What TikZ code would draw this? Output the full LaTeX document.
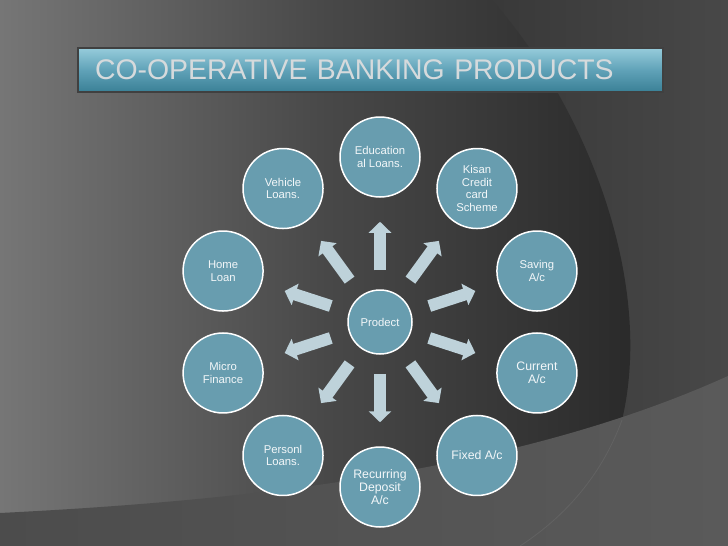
\documentclass[tikz,border=0pt]{standalone}
\usepackage{fontspec}
\setmainfont{Liberation Sans}
\usepackage{tikz}
\usetikzlibrary{trees, arrows.meta}
\usepackage{xcolor}
\definecolor{bubble}{RGB}{104,157,175}
\definecolor{pointer}{RGB}{190,210,218}
\definecolor{bgleft}{RGB}{118,118,118}
\definecolor{bgmid}{RGB}{72,72,72}
\definecolor{bgright}{RGB}{40,40,40}
\definecolor{bgout}{RGB}{56,56,56}
\definecolor{bgfar}{RGB}{72,72,72}
\definecolor{bandleft}{RGB}{76,76,76}
\definecolor{bandright}{RGB}{90,90,90}
\definecolor{arcline}{RGB}{98,98,98}
\definecolor{bartop}{RGB}{150,204,219}
\definecolor{barmid}{RGB}{96,162,184}
\definecolor{barbot}{RGB}{58,128,150}
\definecolor{titletext}{RGB}{214,218,220}

\tikzset{
  product/.style={circle, draw=white, line width=1.5pt, fill=bubble, minimum size=80pt,
    inner sep=0pt, align=center, text=white!92!bubble, font=\fontsize{11.3}{12.5}\selectfont},
  bigtext/.style={font=\fontsize{12.3}{13}\selectfont},
  titlebar/.style={draw=black!75, line width=1.2pt, top color=bartop, bottom color=barbot,
    middle color=barmid, minimum height=44pt, text width=551pt, inner xsep=17pt,
    align=left, text=titletext, font=\fontsize{28.4}{30}\selectfont}
}

\begin{document}
\begin{tikzpicture}[x=1pt, y=1pt,
    grow cyclic, level distance=165pt, sibling angle=36,
    edge from parent/.style={draw=pointer, line width=12pt,
      -{Triangle[width=22pt,length=11pt]}, shorten <=19pt, shorten >=24pt}]
    \useasboundingbox (0,0) rectangle (728,-546);
    \fill[bgout] (0,0) rectangle (728,-546);
    \shade[left color=bgout, right color=bgfar] (480,0) rectangle (728,-546);
    \shade[left color=bgleft, right color=bgright, middle color=bgmid]
      (0,0) -- (492,0) .. controls (585,-105) and (655,-280) .. (622,-420)
      .. controls (600,-480) and (560,-520) .. (520,-546) -- (0,-546) -- cycle;
    \shade[left color=bandleft, right color=bandright]
      (0,-513) .. controls (260,-500) and (520,-470) .. (728,-376) -- (728,-546) -- (0,-546) -- cycle;
    \draw[arcline, line width=0.8pt] (622,-420) .. controls (600,-480) and (560,-520) .. (520,-546);

    \node[titlebar] (title) at (370.5,-70) {CO-OPERATIVE BANKING PRODUCTS};

    \node[product, minimum size=64pt] (prod) at (380,-322) {Prodect}
        child {node[product] (micro) {Micro\\Finance}}
        child {node[product] (personal) {Personl\\Loans.}}
        child {node[product, bigtext] (recurring) {Recurring\\Deposit\\A/c}}
        child {node[product, bigtext] (fixed) {Fixed A/c}}
        child {node[product, bigtext] (current) {Current\\A/c}}
        child {node[product] (saving) {Saving\\A/c}}
        child {node[product] (kisan) {Kisan\\Credit\\card\\Scheme}}
        child {node[product] (education) {Education\\al Loans.}}
        child {node[product] (vehicle) {Vehicle\\Loans.}}
        child {node[product] (home) {Home\\Loan}};
\end{tikzpicture}
\end{document}
